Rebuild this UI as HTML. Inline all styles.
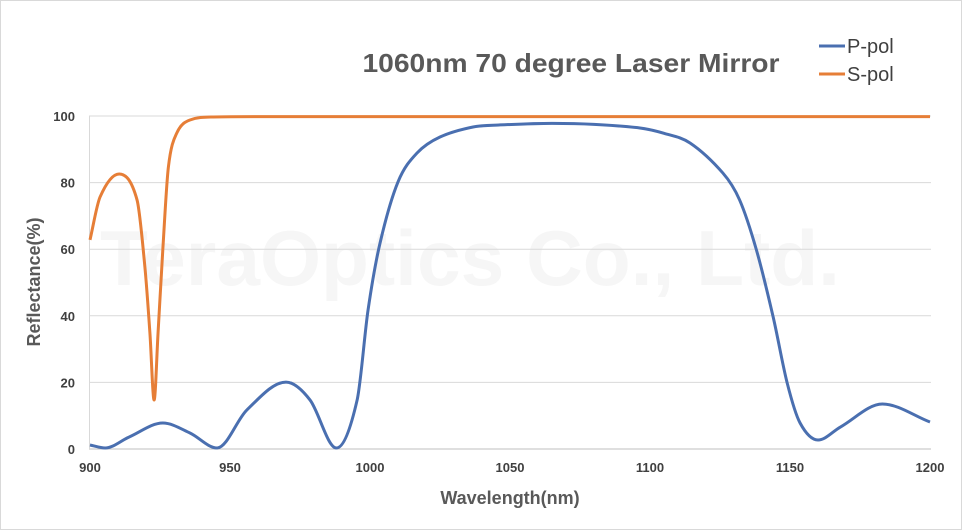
<!DOCTYPE html>
<html><head><meta charset="utf-8"><style>
html,body{margin:0;padding:0;background:#fff}
svg{display:block;font-family:"Liberation Sans",sans-serif}
</style></head><body>
<svg id="chart" width="962" height="530" viewBox="0 0 962 530" xmlns="http://www.w3.org/2000/svg">
<rect x="0.5" y="0.5" width="961" height="529" fill="#fff" stroke="#d9d9d9"/>
<text x="470" y="285" text-anchor="middle" font-size="78" font-weight="bold" fill="#f6f6f6" textLength="740" lengthAdjust="spacingAndGlyphs">TeraOptics Co., Ltd.</text>
<g id="grid"></g>
<g id="yticks"></g>
<g id="xticks"></g>
<g id="series"></g>
<text x="571" y="72" text-anchor="middle" font-size="26" font-weight="bold" fill="#595959" textLength="417" lengthAdjust="spacingAndGlyphs">1060nm 70 degree Laser Mirror</text>
<g>
<g>
<line x1="819" y1="46" x2="845" y2="46" stroke="#4a6fb0" stroke-width="3"/>
<text x="847" y="53" font-size="20" fill="#404040">P-pol</text></g>
<g>
<line x1="819" y1="74" x2="845" y2="74" stroke="#e67e37" stroke-width="3"/>
<text x="847" y="81" font-size="20" fill="#404040">S-pol</text></g>
</g>
<text transform="translate(40,282) rotate(-90)" text-anchor="middle" font-size="18" font-weight="bold" fill="#595959">Reflectance(%)</text>
<text x="510" y="504" text-anchor="middle" font-size="18" font-weight="bold" fill="#595959">Wavelength(nm)</text>
</svg>
<script>
const yTicks=[0,20,40,60,80,100];
const xTicks=[900,950,1000,1050,1100,1150,1200];
const sWave=[900,903.6,910.4,916.8,919.6,921.4,922.9,924.3,926,928,931,935.7,944,960,1000,1100,1200];
const sVals=[62.8,75.7,82.6,74.8,54.7,34.8,14.7,34.8,59.8,84.7,94.9,98.8,99.7,99.8,99.8,99.8,99.8];
const pWave=[900,905.4,914,926,935.7,945.4,956,970,978.6,988,995.4,999.3,1003.6,1010,1016.8,1025,1036.8,1046,1065,1080,1096.4,1105,1114.3,1126,1132,1138,1144,1149,1153.6,1160,1168,1183,1200];
const pVals=[1.2,0.3,3.6,7.8,4.8,0.3,11.7,20.1,14.7,0.3,14.7,41.7,61.9,80.2,88.9,93.7,96.7,97.3,97.8,97.5,96.4,94.8,91.9,82.9,74.8,59.8,39.6,19.8,7.8,2.7,6.6,13.5,8.1];
const NS='http://www.w3.org/2000/svg';
const X=v=>90+(v-900)*(840/300);
const Y=v=>449-v*(333/100);
function mk(t,a,p){const e=document.createElementNS(NS,t);for(const k in a)e.setAttribute(k,a[k]);p.appendChild(e);return e;}
const grid=document.getElementById('grid'),yt=document.getElementById('yticks'),xt=document.getElementById('xticks'),ser=document.getElementById('series');
yTicks.forEach(v=>{
 const l=mk('line',{x1:89,x2:931,y1:Y(v),y2:Y(v),stroke:v===0?'#bfbfbf':'#d9d9d9','stroke-width':1},grid);
 
 
 const t=mk('text',{x:75,y:Y(v)+5,'text-anchor':'end','font-size':13,'font-weight':'bold',fill:'#404040'},yt);
 t.textContent=v;
 
 
});
mk('line',{x1:89.5,x2:89.5,y1:116,y2:449,stroke:'#d9d9d9'},grid);
xTicks.forEach(v=>{
 const t=mk('text',{x:X(v),y:472,'text-anchor':'middle','font-size':13,'font-weight':'bold',fill:'#404040'},xt);
 t.textContent=v;
 
 
});
// cubic Hermite with central-difference tangents, flat at local extrema
function path(ws,vs){
 const xs=ws.map(X),ys=vs.map(Y),n=xs.length;
 const d=[],m=new Array(n);
 for(let i=0;i<n-1;i++)d.push((ys[i+1]-ys[i])/(xs[i+1]-xs[i]));
 m[0]=d[0];m[n-1]=d[n-2];
 for(let i=1;i<n-1;i++){
  if(d[i-1]*d[i]<=0)m[i]=0;
  else{
   let t=(ys[i+1]-ys[i-1])/(xs[i+1]-xs[i-1]);
   const lim=3*Math.min(Math.abs(d[i-1]),Math.abs(d[i]));
   if(Math.abs(t)>lim)t=Math.sign(t)*lim;
   m[i]=t;
  }
 }
 let s='M'+xs[0]+','+ys[0];
 for(let i=0;i<n-1;i++){
  const h=(xs[i+1]-xs[i])/3;
  s+=' C'+(xs[i]+h)+','+(ys[i]+m[i]*h)+' '+(xs[i+1]-h)+','+(ys[i+1]-m[i+1]*h)+' '+xs[i+1]+','+ys[i+1];
 }
 return s;
}
const sp=mk('path',{d:path(sWave,sVals),fill:'none',stroke:'#e67e37','stroke-width':3,'stroke-linejoin':'round'},ser);


const pp=mk('path',{d:path(pWave,pVals),fill:'none',stroke:'#4a6fb0','stroke-width':3,'stroke-linejoin':'round'},ser);


</script>
</body></html>
